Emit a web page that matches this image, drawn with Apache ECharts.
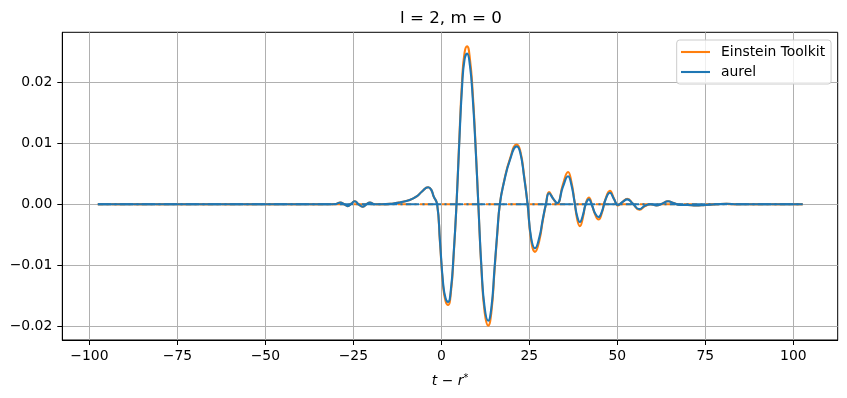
<!DOCTYPE html>
<html>
<head>
<meta charset="utf-8">
<script src="https://cdn.jsdelivr.net/npm/echarts@6/dist/echarts.min.js"></script>
<style>
  html, body { margin: 0; padding: 0; background: #ffffff; }
  #chart { width: 847px; height: 398px; }
</style>
</head>
<body>
<div id="chart"></div>
<script>
// ---- data ----
const times = [
  -97.6, -80, -60, -40, -32, -30, -28.7, -27.6, -26.6, -25.6, -24.6, -23.5, -22.4, -21.3, -20.3,
  -19, -17, -14, -11.8, -9, -7, -5.5, -3.75, -2.9, -2.2, -1.2, -0.4, 0.5, 1.2, 1.9, 2.7, 3.5, 4.3,
  5.0, 5.9, 6.6, 7.3, 8.1, 8.9, 9.7, 10.5, 11.4, 12.3, 13.3, 14.2, 15.1, 15.9, 16.6,
  17.7, 19.5, 21.4, 22.4, 23.5, 24.5, 25.5, 26.6, 27.8, 28.8, 29.7, 30.6, 31.8, 32.9,
  34.5, 36.0, 36.9, 37.8, 38.6, 39.35, 40.2, 41.0, 41.9, 42.8, 43.7, 44.65, 45.6, 46.6,
  47.9, 49.0, 50.2, 51.5, 52.8, 54.4, 56.2, 57.9, 59.5, 61.1, 62.7, 64.4, 66.0, 67.8,
  70, 72.3, 75, 78, 81, 84, 90, 102.6
];
const einsteinToolkit = [
  0, 0, 0, 0, 0, 0.00005, 0.0003, 0, -0.0003, 0.0001, 0.0005, 0, -0.0004, 0, 0.0003,
  0, 0, 0.0001, 0.0003, 0.0007, 0.0013, 0.0021, 0.0028, 0.0024, 0.0013, 0, -0.0062, -0.0134, -0.0159, -0.0165, -0.0145, -0.0083, 0,
  0.0094, 0.0204, 0.0249, 0.0259, 0.0239, 0.0183, 0.0099, 0, -0.0109, -0.0177, -0.0199, -0.0177, -0.0109, -0.0047, 0,
  0.0035, 0.0075, 0.0098, 0.0088, 0.0047, 0, -0.0059, -0.0078, -0.0060, -0.0027, 0, 0.0020, 0.0009, 0.0001,
  0.0032, 0.0053, 0.0038, 0.0006, -0.0025, -0.0036, -0.0022, 0.0001, 0.0011, -0.0001, -0.0017, -0.0025, -0.0014, 0.0008,
  0.0022, 0.0010, -0.0002, 0.0004, 0.0009, 0.0001, -0.0009, -0.0003, 0, -0.0002, 0.0001, 0.0005, 0.0002, -0.0001,
  -0.0001, -0.0002, -0.0001, 0, 0.0001, 0, 0, 0
];
const aurel = [
  0, 0, 0, 0, 0, 0.00005, 0.0003, 0, -0.0003, 0.0001, 0.0005, 0, -0.0004, 0, 0.0003,
  0, 0, 0.0001, 0.0003, 0.0007, 0.0013, 0.0021, 0.0028, 0.0024, 0.0013, 0, -0.0060, -0.0130, -0.0154, -0.0160, -0.0140, -0.0080, 0,
  0.0090, 0.0195, 0.0238, 0.0247, 0.0228, 0.0175, 0.0095, 0, -0.0105, -0.0170, -0.0191, -0.0170, -0.0105, -0.0045, 0,
  0.0034, 0.0073, 0.0095, 0.0085, 0.0045, 0, -0.0055, -0.0072, -0.0055, -0.0025, 0, 0.0018, 0.0009, 0.0002,
  0.0028, 0.0046, 0.0033, 0.0005, -0.0020, -0.0029, -0.0018, 0, 0.0008, -0.0002, -0.0015, -0.0021, -0.0012, 0.0007,
  0.0019, 0.0009, -0.0001, 0.0004, 0.0008, 0.0001, -0.0008, -0.0002, 0, -0.0002, 0.0001, 0.0005, 0.0002, -0.0001,
  -0.0001, -0.0002, -0.0001, 0, 0.0001, 0, 0, 0
];
// imaginary parts (all zero for m = 0), drawn dash-dot
const imagTimes = [-97.6, 102.6];
const imagValues = [0, 0];
const xTicks = [-100, -75, -50, -25, 0, 25, 50, 75, 100];
const yTicks = [-0.02, -0.01, 0, 0.01, 0.02];

// ---- chart ----
const FONT = 'DejaVu Sans';
const pairs = (xs, ys) => xs.map((x, i) => [x, ys[i]]);
const minus = s => String(s).replace('-', '\u2212');
const dashDot = [13.3, 3.3, 2.1, 3.3];

const chart = echarts.init(document.getElementById('chart'), null, { renderer: 'canvas' });
chart.setOption({
  animation: false,
  backgroundColor: '#ffffff',
  title: {
    text: 'l = 2, m = 0',
    left: 400, top: 10, padding: 0,
    textStyle: { fontFamily: FONT, fontSize: 16.7, fontWeight: 'normal', color: '#000', lineHeight: 17 }
  },
  legend: {
    data: ['Einstein Toolkit', 'aurel'],
    orient: 'vertical',
    left: 676.7, top: 40,
    padding: [4, 6, 4, 4.3],
    icon: 'path://M0,0H29V2.1H0Z',
    itemWidth: 29, itemHeight: 14, itemGap: 4,
    backgroundColor: 'rgba(255,255,255,0.8)',
    borderColor: '#cccccc', borderWidth: 1, borderRadius: 3,
    textStyle: { fontFamily: FONT, fontSize: 13.9, color: '#000', lineHeight: 16, padding: [0, 0, 0, 6] }
  },
  grid: {
    left: 62.3, right: 9.3, top: 32.3, bottom: 58,
    show: true, borderColor: '#000', borderWidth: 1, backgroundColor: 'transparent'
  },
  xAxis: {
    type: 'value', min: -107.7, max: 112.6,
    name: '{i|t} \u2212 {i|r}{s|*}',
    nameLocation: 'middle', nameGap: 33,
    nameTextStyle: {
      fontFamily: FONT, fontSize: 13.9, color: '#000', lineHeight: 16,
      rich: {
        i: { fontFamily: FONT, fontStyle: 'italic', fontSize: 13.9, color: '#000' },
        s: { fontFamily: FONT, fontSize: 9.7, color: '#000', verticalAlign: 'top', padding: [0, 0, 6, 0] }
      }
    },
    axisLine: { show: true, onZero: false, lineStyle: { color: '#000', width: 1 } },
    axisTick: { show: true, inside: false, length: 5, customValues: xTicks, lineStyle: { color: '#000', width: 1 } },
    axisLabel: { customValues: xTicks, margin: 9.5, fontFamily: FONT, fontSize: 13.9, color: '#000', formatter: v => minus(v) },
    splitLine: { show: true, lineStyle: { color: '#b0b0b0', width: 1 } }
  },
  yAxis: {
    type: 'value', min: -0.02225, max: 0.0282,
    axisLine: { show: true, onZero: false, lineStyle: { color: '#000', width: 1 } },
    axisTick: { show: true, inside: false, length: 5, customValues: yTicks, lineStyle: { color: '#000', width: 1 } },
    axisLabel: { customValues: yTicks, margin: 10, fontFamily: FONT, fontSize: 13.9, color: '#000', formatter: v => minus(v.toFixed(2)) },
    splitLine: { show: true, lineStyle: { color: '#b0b0b0', width: 1 } }
  },
  series: [
    {
      name: 'Einstein Toolkit', type: 'line', data: pairs(times, einsteinToolkit),
      symbol: 'none', smooth: 0.5, color: '#ff7f0e',
      lineStyle: { color: '#ff7f0e', width: 2.1 }, z: 2
    },
    {
      name: 'Einstein Toolkit imag', type: 'line', data: pairs(imagTimes, imagValues),
      symbol: 'none', color: '#ff7f0e',
      lineStyle: { color: '#ff7f0e', width: 2.1, type: dashDot, dashOffset: 8 }, z: 3
    },
    {
      name: 'aurel', type: 'line', data: pairs(times, aurel),
      symbol: 'none', smooth: 0.5, color: '#1f77b4',
      lineStyle: { color: '#1f77b4', width: 2.1 }, z: 4
    },
    {
      name: 'aurel imag', type: 'line', data: pairs(imagTimes, imagValues),
      symbol: 'none', color: '#1f77b4',
      lineStyle: { color: '#1f77b4', width: 2.1, type: dashDot }, z: 5
    }
  ]
});
</script>
</body>
</html>
